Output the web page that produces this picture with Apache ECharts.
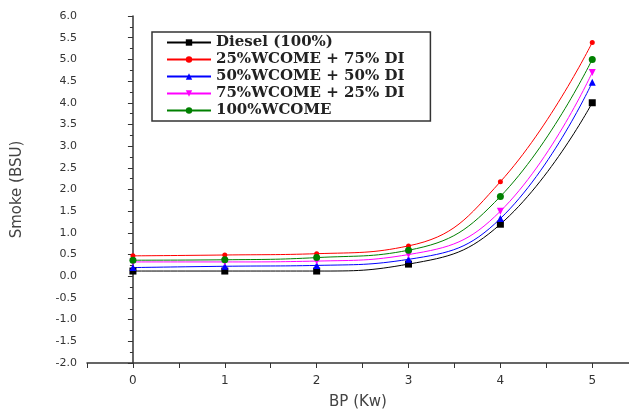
<!DOCTYPE html>
<html><head><meta charset="utf-8">
<script src="https://cdn.jsdelivr.net/npm/echarts@6/dist/echarts.min.js"></script>
<style>html,body{margin:0;padding:0;background:#fff}#c{width:629px;height:415px}</style>
</head><body><div id="c"></div>
<script>
const bp = [0, 1, 2, 3, 4, 5];
const seriesNames = ['Diesel (100%)', '25%WCOME + 75% DI', '50%WCOME + 50% DI', '75%WCOME + 25% DI', '100%WCOME'];
const diesel = [0.12, 0.12, 0.12, 0.28, 1.2, 4.0];
const wcome25 = [0.47, 0.49, 0.52, 0.70, 2.18, 5.39];
const wcome50 = [0.20, 0.23, 0.25, 0.39, 1.33, 4.47];
const wcome75 = [0.33, 0.33, 0.35, 0.50, 1.50, 4.70];
const wcome100 = [0.37, 0.38, 0.43, 0.60, 1.84, 5.00];
const yTicks = [-2, -1.5, -1, -0.5, 0, 0.5, 1, 1.5, 2, 2.5, 3, 3.5, 4, 4.5, 5, 5.5, 6];
const xTicks = [0, 1, 2, 3, 4, 5];

const colors = ['#000000', '#ff0000', '#0000ff', '#ff00ff', '#008000'];
const symbols = ['rect', 'circle', 'triangle', 'path://M0,0 L10,0 L5,9 Z', 'circle'];
const sizes = [7, 5, 7, 7, 7];
const datasets = [diesel, wcome25, wcome50, wcome75, wcome100];

const chart = echarts.init(document.getElementById('c'));
chart.setOption({
  animation: false,
  backgroundColor: '#fff',
  grid: { left: 87, top: 16, bottom: 51, right: 0 },
  legend: {
    orient: 'vertical', left: 152, top: 32,
    itemGap: 2, itemWidth: 44, itemHeight: 8,
    padding: [3, 26, 3, 14],
    borderColor: '#333', borderWidth: 1.5, backgroundColor: '#fff',
    textStyle: { fontFamily: 'DejaVu Serif', fontWeight: 'bold', fontSize: 15, color: '#222' },
    data: seriesNames
  },
  xAxis: {
    type: 'value', min: -0.5, max: 5.4, interval: 0.5,
    name: 'BP (Kw)', nameLocation: 'middle', nameGap: 32,
    nameTextStyle: { fontFamily: 'DejaVu Sans', fontSize: 15, color: '#444' },
    axisLine: { show: true, onZero: false, lineStyle: { color: '#333', width: 1.5 } },
    axisTick: { show: true, length: 5, lineStyle: { color: '#333' } },
    axisLabel: { fontFamily: 'DejaVu Sans', fontSize: 12, color: '#333', margin: 12,
      showMaxLabel: false,
      formatter: v => xTicks.includes(v) ? String(v) : '' },
    splitLine: { show: false }
  },
  yAxis: {
    type: 'value', min: -2, max: 6, interval: 0.5,
    name: 'Smoke (BSU)', nameLocation: 'middle', nameGap: 62,
    nameTextStyle: { fontFamily: 'DejaVu Sans', fontSize: 15, color: '#444' },
    axisLine: { show: true, lineStyle: { color: '#333', width: 1.5 } },
    axisTick: { show: true, length: 5, lineStyle: { color: '#333' } },
    minorTick: { show: true, splitNumber: 2, length: 3, lineStyle: { color: '#333' } },
    axisLabel: { fontFamily: 'DejaVu Sans', fontSize: 11, color: '#333', margin: 10,
      formatter: v => yTicks.includes(v) ? v.toFixed(1) : '' },
    splitLine: { show: false }
  },
  series: seriesNames.map((n, i) => ({
    name: n, type: 'line', smooth: 0.45,
    symbol: symbols[i], symbolSize: sizes[i], showSymbol: true,
    itemStyle: { color: colors[i] },
    lineStyle: { color: colors[i], width: 1 },
    data: bp.map((x, j) => [x, datasets[i][j]])
  }))
});
</script></body></html>
